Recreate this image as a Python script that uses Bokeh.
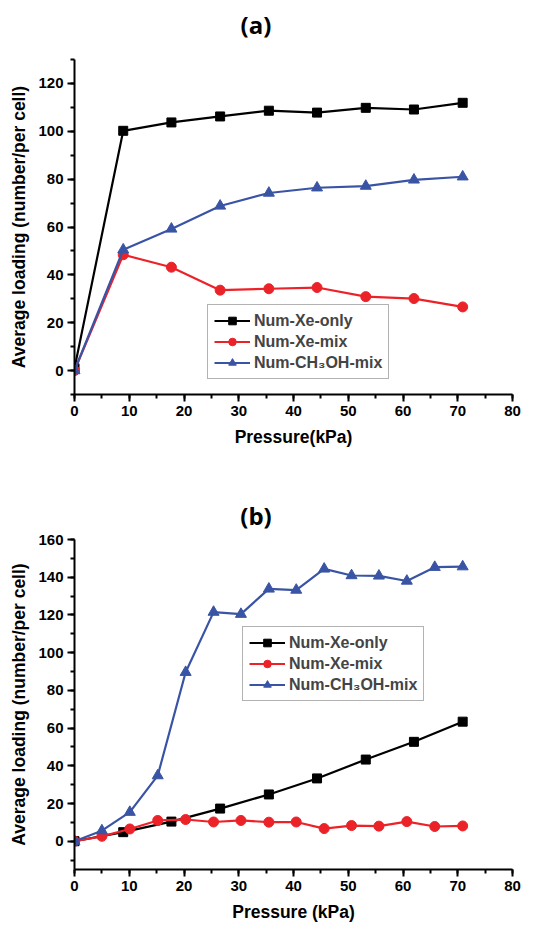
from bokeh.plotting import figure
from bokeh.models import SingleIntervalTicker, Range1d, Legend, LegendItem, Div
from bokeh.layouts import column
from bokeh.embed import file_html
from bokeh.resources import INLINE

# ---------------- data ----------------
# panel (a)
a_x = [0, 8.9, 17.7, 26.6, 35.5, 44.3, 53.2, 62.0, 70.9]
a_xe_only = [1, 100.2, 103.7, 106.2, 108.6, 107.8, 109.8, 109.1, 111.9]
a_xe_mix = [0, 48.4, 43.2, 33.6, 34.2, 34.7, 30.9, 30.1, 26.6]
a_ch3oh_mix = [0, 50.5, 59.2, 68.8, 74.2, 76.4, 77.1, 79.7, 81.0]

# panel (b)
b_x_only = [0, 8.9, 17.7, 26.6, 35.5, 44.3, 53.2, 62.0, 70.9]
b_xe_only = [0, 4.8, 10.4, 17.3, 24.8, 33.3, 43.3, 52.7, 63.4]
b_x_mix = [0, 5.0, 10.1, 15.2, 20.3, 25.4, 30.4, 35.5, 40.5, 45.6, 50.6, 55.6, 60.7, 65.8, 70.9]
b_xe_mix = [0, 2.6, 6.5, 11.0, 11.5, 10.2, 11.0, 10.1, 10.2, 6.7, 8.3, 8.0, 10.4, 7.8, 8.1]
b_ch3oh_mix = [0, 5.6, 15.4, 34.8, 89.6, 121.5, 120.4, 133.8, 133.2, 144.4, 140.9, 140.7, 138.0, 145.3, 145.6]

labels = ["Num-Xe-only", "Num-Xe-mix", "Num-CH\u2083OH-mix"]
x_ticks_interval = 10
y_ticks_interval = 20

BLACK = "#000000"
RED = "#EC2229"
BLUE = "#3A54A5"
FONT = "Liberation Sans"
NAN = float("nan")


def title_div(text, height, pad_top):
    return Div(text=text, width=512, height=height, margin=0,
               styles={"width": "512px", "text-align": "center",
                       "font-family": "'Open Sans'", "font-weight": "bold",
                       "font-size": "24px", "line-height": "26px",
                       "padding-top": f"{pad_top}px", "color": "black",
                       "box-sizing": "border-box"})


def make_panel(height, border_top, border_bottom, yr, xs_list, ys_list,
               xlabel, legend_loc, xlabel_standoff):
    p = figure(width=530, height=height, output_backend="svg", toolbar_location=None,
               x_range=Range1d(0, 80), y_range=Range1d(*yr),
               min_border_left=74, min_border_right=18,
               min_border_top=border_top, min_border_bottom=border_bottom)
    p.outline_line_color = None
    p.xgrid.visible = False
    p.ygrid.visible = False

    p.xaxis.ticker = SingleIntervalTicker(interval=x_ticks_interval, num_minor_ticks=2)
    p.yaxis.ticker = SingleIntervalTicker(interval=y_ticks_interval, num_minor_ticks=2)
    for ax in (p.xaxis[0], p.yaxis[0]):
        ax.axis_line_width = 2
        ax.major_tick_line_width = 2
        ax.minor_tick_line_width = 2
        ax.major_tick_out = 7
        ax.major_tick_in = 0
        ax.minor_tick_out = 4
        ax.minor_tick_in = 0
        ax.major_label_text_font = FONT
        ax.major_label_text_font_style = "bold"
        ax.major_label_text_font_size = "15px"
        ax.major_label_text_color = "black"
        ax.axis_label_text_font = FONT
        ax.axis_label_text_font_style = "bold"
        ax.axis_label_text_color = "black"
    p.xaxis.axis_label_text_font_size = "17.5px"
    p.yaxis.axis_label_text_font_size = "17.5px"
    p.xaxis.axis_label = xlabel
    p.yaxis.axis_label = "Average loading (number/per cell)"
    p.xaxis.major_label_standoff = 4
    p.yaxis.major_label_standoff = 4
    p.xaxis.axis_label_standoff = xlabel_standoff
    p.yaxis.axis_label_standoff = 6

    colors = [BLACK, RED, BLUE]
    markers = ["square", "circle", "triangle"]
    sizes = [9, 10, 11]
    items = []
    for xs, ys, c, m, s, lab in zip(xs_list, ys_list, colors, markers, sizes, labels):
        p.line(xs, ys, line_color=c, line_width=2.2)
        p.scatter(xs, ys, marker=m, size=s, fill_color=c, line_color=c)
        # legend-only renderers (single NaN point, never drawn) with smaller markers
        lr = p.line([NAN], [NAN], line_color=c, line_width=2.2)
        sr = p.scatter([NAN], [NAN], marker=m, size=6, fill_color=c, line_color=c)
        items.append(LegendItem(label=lab, renderers=[lr, sr]))
    leg = Legend(items=items, location=legend_loc,
                 label_text_font=FONT, label_text_font_style="bold",
                 label_text_font_size="16px", label_standoff=4,
                 label_height=19,
                 glyph_width=36, glyph_height=19, spacing=2, padding=6, margin=0,
                 border_line_color="#666666", border_line_width=1,
                 background_fill_alpha=1.0)
    p.add_layout(leg)
    return p


ta = title_div("(a)", 40, 12)
pa = make_panel(425, 19, 71, (-10, 130),
                [a_x, a_x, a_x], [a_xe_only, a_xe_mix, a_ch3oh_mix],
                "Pressure(kPa)", (133, 15), 8)
tb = title_div("(b)", 66, 38)
pb = make_panel(397, 8, 59, (-15, 160),
                [b_x_only, b_x_mix, b_x_mix], [b_xe_only, b_xe_mix, b_ch3oh_mix],
                "Pressure (kPa)", (168, 168), 8)

layout = column(ta, pa, tb, pb, spacing=0)
open("out.html", "w").write(file_html(layout, INLINE))
